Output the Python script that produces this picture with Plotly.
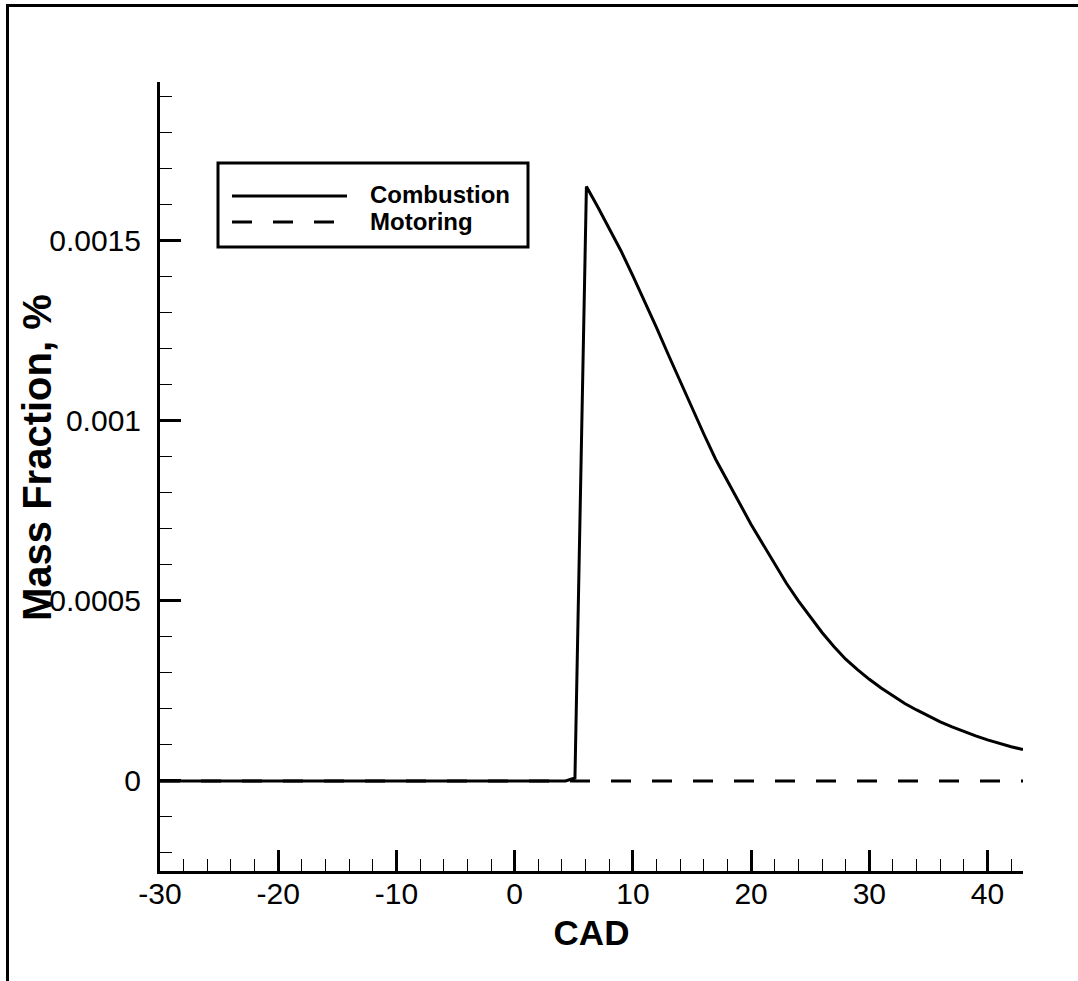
import plotly.graph_objects as go

# ---- data ----
cad_combustion = [-30, -20, -10, 0, 4.3, 5.1, 6.07, 7, 8, 9, 10, 11, 12, 13, 14, 15, 16, 17, 18, 19, 20,
                  21, 22, 23, 24, 25, 26, 27, 28, 29, 30, 31, 32, 33, 34, 35, 36, 37, 38, 39, 40, 41, 42, 43]
mf_combustion = [0, 0, 0, 0, 0, 0.000008, 0.00165, 0.001595, 0.001535, 0.001471, 0.001402, 0.001331,
                 0.001258, 0.001183, 0.001109, 0.001036, 0.000963, 0.000893, 0.000833, 0.000775, 0.000712,
                 0.000657, 0.000603, 0.000548, 0.000500, 0.000455, 0.000412, 0.000373, 0.000338, 0.000309,
                 0.000282, 0.000258, 0.000236, 0.000215, 0.000197, 0.000180, 0.000164, 0.000150, 0.000137,
                 0.000125, 0.000114, 0.000104, 0.000095, 0.000087]
cad_motoring = [-30, 43]
mf_motoring = [0, 0]

x_tick_vals = [-30, -20, -10, 0, 10, 20, 30, 40]
x_tick_text = ["-30", "-20", "-10", "0", "10", "20", "30", "40"]
y_tick_vals = [0, 0.0005, 0.001, 0.0015]
y_tick_text = ["0", "0.0005", "0.001", "0.0015"]
legend_names = ["Combustion", "Motoring"]

# ---- layout geometry (pixels) ----
W, H = 1078, 981
L, R, T, B = 160, 55, 82, 110
PW, PH = W - L - R, H - T - B


def px_x(p):
    return (p - L) / PW


def px_y(p):
    return (H - B - p) / PH


FONT = "Liberation Sans, Arial, Helvetica, sans-serif"
DASH = "20px,21px"

fig = go.Figure()
fig.add_trace(go.Scatter(x=cad_motoring, y=mf_motoring, mode="lines", name=legend_names[1],
                         line=dict(color="black", width=3, dash=DASH), showlegend=False))
fig.add_trace(go.Scatter(x=cad_combustion, y=mf_combustion, mode="lines", name=legend_names[0],
                         line=dict(color="black", width=3), showlegend=False))

shapes = [
    # outer frame (left + top)
    dict(type="line", xref="paper", yref="paper", x0=px_x(7.5), x1=px_x(7.5), y0=px_y(5.5), y1=px_y(990),
         line=dict(color="black", width=3)),
    dict(type="line", xref="paper", yref="paper", x0=px_x(6), x1=px_x(1090), y0=px_y(5.5), y1=px_y(5.5),
         line=dict(color="black", width=3)),
    # legend box
    dict(type="rect", xref="paper", yref="paper", x0=px_x(218), x1=px_x(528), y0=px_y(247), y1=px_y(163),
         line=dict(color="black", width=3), fillcolor="white"),
    dict(type="line", xref="paper", yref="paper", x0=px_x(232), x1=px_x(347), y0=px_y(196), y1=px_y(196),
         line=dict(color="black", width=3)),
    dict(type="line", xref="paper", yref="paper", x0=px_x(232), x1=px_x(335), y0=px_y(222), y1=px_y(222),
         line=dict(color="black", width=3, dash=DASH)),
]

annotations = [
    dict(text="<b>%s</b>" % legend_names[0], xref="paper", yref="paper", x=px_x(368), y=px_y(195),
         xanchor="left", yanchor="middle", showarrow=False, font=dict(family=FONT, size=24, color="black")),
    dict(text="<b>%s</b>" % legend_names[1], xref="paper", yref="paper", x=px_x(368), y=px_y(221),
         xanchor="left", yanchor="middle", showarrow=False, font=dict(family=FONT, size=24, color="black")),
    # y-axis title (placed to overlap tick labels slightly, as in the reference)
    dict(text="<b>Mass Fraction, %</b>", xref="paper", yref="paper", x=px_x(37), y=px_y(458),
         xanchor="center", yanchor="middle", textangle=-90, showarrow=False,
         font=dict(family=FONT, size=40, color="black")),
]

fig.update_layout(
    width=W, height=H,
    margin=dict(l=L, r=R, t=T, b=B, autoexpand=False),
    paper_bgcolor="white", plot_bgcolor="white",
    shapes=shapes, annotations=annotations,
    showlegend=False,
    font=dict(family=FONT, color="black"),
)

fig.update_xaxes(
    range=[-30, 43], showline=True, linewidth=3, linecolor="black",
    showgrid=False, zeroline=False,
    ticks="inside", ticklen=21, tickwidth=3, tickcolor="black",
    tickmode="array", tickvals=x_tick_vals, ticktext=x_tick_text,
    minor=dict(ticks="inside", ticklen=12, tickwidth=1, tickcolor="black", dtick=2, tick0=0, showgrid=False),
    tickfont=dict(family=FONT, size=30, color="black"),
    ticklabelstandoff=-6,
    title=dict(text="<b>CAD</b>", font=dict(family=FONT, size=35, color="black"), standoff=12),
)
fig.update_yaxes(
    range=[-0.00025, 0.00194], showline=True, linewidth=3, linecolor="black",
    showgrid=False, zeroline=False,
    ticks="inside", ticklen=21, tickwidth=3, tickcolor="black",
    tickmode="array", tickvals=y_tick_vals, ticktext=y_tick_text,
    minor=dict(ticks="inside", ticklen=12, tickwidth=1, tickcolor="black", dtick=0.0001, tick0=0, showgrid=False),
    tickfont=dict(family=FONT, size=30, color="black"),
    ticklabelstandoff=10,
)

fig.write_html("out.html", config={"displayModeBar": False},
               post_script="document.body.style.margin='0';document.body.style.overflow='hidden';")
